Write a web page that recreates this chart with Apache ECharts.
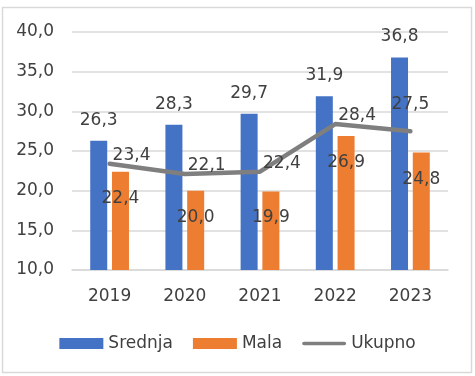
<!DOCTYPE html>
<html lang="hr">
<head>
    <meta charset="UTF-8">
    <title>Srednja / Mala / Ukupno</title>
    <style>
        * {
            margin: 0;
            padding: 0;
        }

        .main {
            width: 475px;
            height: 376px;
        }
    </style>
</head>
<body>
<div id="main" class="main"></div>
<script src="https://cdn.jsdelivr.net/npm/echarts@6/dist/echarts.min.js"></script>
<script>
    var years = ['2019', '2020', '2021', '2022', '2023'];
    var srednja = [26.3, 28.3, 29.7, 31.9, 36.8];
    var mala = [22.4, 20.0, 19.9, 26.9, 24.8];
    var ukupno = [23.4, 22.1, 22.4, 28.4, 27.5];
    var yTicks = [10, 15, 20, 25, 30, 35, 40];

    var txt = '#404040';
    var fnt = 'DejaVu Sans';
    var fs = 17;

    function fmt(v) {
        return v.toFixed(1).replace('.', ',');
    }

    var myChart = echarts.init(document.getElementById('main'), null, {renderer: 'canvas'});

    myChart.setOption({
        animation: false,
        textStyle: {fontFamily: fnt},
        graphic: [{
            type: 'rect',
            shape: {x: 2.5, y: 7.5, width: 469, height: 365},
            style: {fill: 'none', stroke: '#d9d9d9', lineWidth: 1.5},
            silent: true
        }],
        grid: {left: 72, right: 27, top: 32, bottom: 106},
        legend: {
            bottom: 19,
            left: 'center',
            itemWidth: 44,
            itemHeight: 11,
            itemGap: 20,
            textStyle: {color: txt, fontSize: fs, fontFamily: fnt},
            data: [
                {name: 'Srednja', icon: 'rect'},
                {name: 'Mala', icon: 'rect'},
                {name: 'Ukupno', icon: 'path://M2,0 L46,0 A2,2 0 0 1 46,4 L2,4 A2,2 0 0 1 2,0 Z'}
            ]
        },
        xAxis: {
            type: 'category',
            data: years,
            axisTick: {show: false},
            axisLine: {lineStyle: {color: '#d9d9d9', width: 1.5}},
            axisLabel: {color: txt, fontSize: fs, margin: 18}
        },
        yAxis: {
            type: 'value',
            min: yTicks[0],
            max: yTicks[yTicks.length - 1],
            interval: 5,
            axisLine: {show: false},
            axisTick: {show: false},
            splitLine: {lineStyle: {color: '#d9d9d9', width: 1.5}},
            axisLabel: {
                color: txt, fontSize: fs, margin: 18,
                formatter: function (v) { return fmt(v); }
            }
        },
        series: [{
            name: 'Srednja',
            type: 'bar',
            data: srednja,
            barWidth: 17,
            barGap: '28%',
            itemStyle: {color: '#4472c4'},
            label: {
                show: true, position: 'top', distance: 12,
                color: txt, fontSize: fs,
                formatter: function (p) { return fmt(p.value); }
            }
        }, {
            name: 'Mala',
            type: 'bar',
            data: mala,
            barWidth: 17,
            itemStyle: {color: '#ed7d31'},
            label: {
                show: true, position: 'insideTop', distance: 18,
                color: txt, fontSize: fs,
                formatter: function (p) { return fmt(p.value); }
            }
        }, {
            name: 'Ukupno',
            type: 'line',
            data: ukupno.map(function (v, i) {
                var last = i === ukupno.length - 1;
                return {
                    value: v,
                    label: last ? {position: 'top', distance: 17, offset: [0, 0]} : {}
                };
            }),
            symbol: 'circle',
            symbolSize: 2,
            showSymbol: true,
            z: 5,
            lineStyle: {color: '#7f7f7f', width: 4.5, cap: 'round', join: 'round'},
            itemStyle: {color: '#7f7f7f'},
            label: {
                show: true, position: 'right', distance: 2, offset: [0, -8],
                color: txt, fontSize: fs,
                formatter: function (p) { return fmt(p.value); }
            }
        }]
    });
</script>
</body>
</html>
